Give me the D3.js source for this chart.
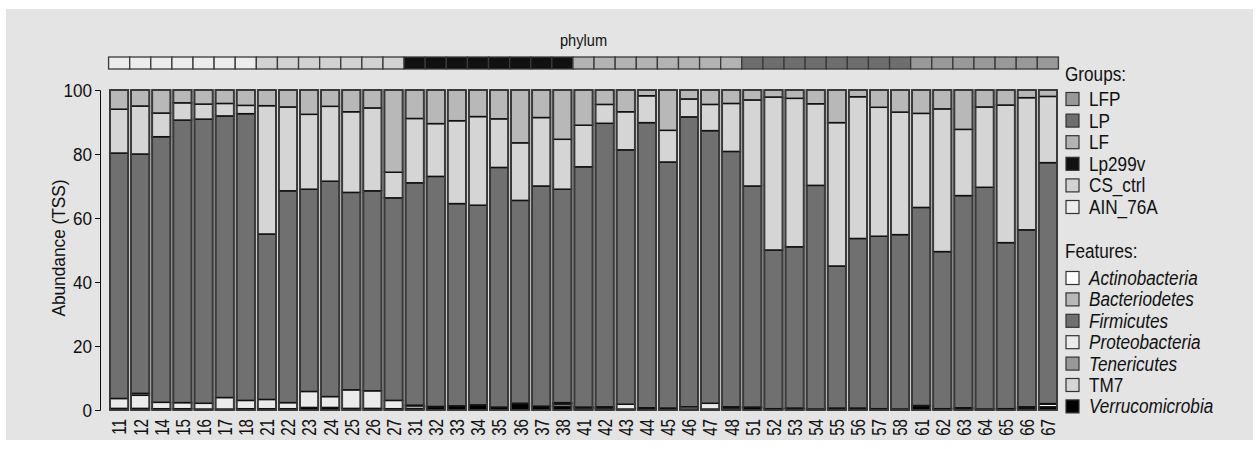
<!DOCTYPE html>
<html>
<head>
<meta charset="utf-8">
<script src="https://cdn.jsdelivr.net/npm/d3@7"></script>
<style>
  html, body { margin: 0; padding: 0; background: #ffffff; }
  svg { display: block; font-family: "Liberation Sans", Arial, sans-serif; }
</style>
</head>
<body>
<svg id="chart" width="1259" height="449"></svg>
<script>
// ---------- DATA ----------
const samples = ["11","12","14","15","16","17","18",
  "21","22","23","24","25","26","27",
  "31","32","33","34","35","36","37","38",
  "41","42","43","44","45","46","47","48",
  "51","52","53","54","55","56","57","58",
  "61","62","63","64","65","66","67"];

const sampleGroups = [
  "AIN_76A","AIN_76A","AIN_76A","AIN_76A","AIN_76A","AIN_76A","AIN_76A",
  "CS_ctrl","CS_ctrl","CS_ctrl","CS_ctrl","CS_ctrl","CS_ctrl","CS_ctrl",
  "Lp299v","Lp299v","Lp299v","Lp299v","Lp299v","Lp299v","Lp299v","Lp299v",
  "LF","LF","LF","LF","LF","LF","LF","LF",
  "LP","LP","LP","LP","LP","LP","LP","LP",
  "LFP","LFP","LFP","LFP","LFP","LFP","LFP"];

const groupNames = ["LFP","LP","LF","Lp299v","CS_ctrl","AIN_76A"];
const groupColors = ["#999999","#6e6e6e","#b3b3b3","#111111","#d2d2d2","#ececec"];

const featureNames = ["Actinobacteria","Bacteriodetes","Firmicutes","Proteobacteria","Tenericutes","TM7","Verrucomicrobia"];
const featureColors = ["#ffffff","#b8b8b8","#707070","#ebebeb","#999999","#d5d5d5","#000000"];
const featureItalic = [true,true,true,true,true,false,true];
// stacking order, bottom to top
const stackOrder = ["Verrucomicrobia","Actinobacteria","Proteobacteria","Tenericutes","Firmicutes","TM7","Bacteriodetes"];

const verrucomicrobia = [0.5,0.5,0.4,0.4,0.3,0.3,0.4, 0.4,0.4,0.8,0.8,0.5,0.5,0.4,
  0.5,1.0,1.2,1.5,0.8,2.0,1.1,1.2, 0.3,0.3,0.3,0.5,0.5,0.3,0.3,0.3,
  0.8,0.3,0.5,0.2,0.5,0.5,0.3,0.2, 1.3,0.3,0.6,0.2,0.3,0.3,1.0];
const actinobacteria = [0,0,0,0,0,0,0, 0,0,0,0,0,0,0,
  0.8,0,0,0,0,0,0,0.7, 0.5,0.5,0,0,0,0,0,0.5,
  0,0,0,0,0,0,0,0, 0,0,0,0,0,0.4,0.8];
const proteobacteria = [3.1,4.1,2.0,1.9,1.8,3.6,2.6, 2.9,1.9,5.0,3.4,5.8,5.5,2.6,
  0.2,0.1,0.1,0.1,0.1,0.1,0.1,0.1, 0.1,0.2,1.5,0.2,0.1,0.7,1.8,0.2,
  0.1,0.1,0.1,0.1,0.1,0.1,0.1,0.1, 0.1,0.1,0.1,0.1,0.1,0.3,0.2];
const tenericutes = [0,0.6,0,0,0,0,0, 0,0,0,0,0,0,0,
  0,0,0,0,0,0,0,0.3, 0,0,0,0,0,0,0,0,
  0,0,0,0,0,0,0,0, 0,0,0,0,0,0,0];
const firmicutes = [76.7,74.8,83.0,88.3,88.8,88.0,89.6, 51.7,66.2,63.2,67.3,61.7,62.5,63.3,
  69.5,71.9,63.2,62.4,74.9,63.4,68.8,66.7, 75.1,88.6,79.5,89.1,76.9,90.6,85.2,79.8,
  69.1,49.6,50.4,69.9,44.4,53.0,53.9,54.5, 61.9,49.1,66.3,69.3,51.9,55.3,75.3];
const tm7 = [13.7,15.0,7.4,5.4,4.7,3.9,2.6, 40.1,26.2,23.4,23.4,25.2,25.9,8.0,
  20.1,16.5,25.9,27.7,15.2,18.0,21.4,15.6, 13.0,5.9,11.9,8.4,9.9,5.6,8.2,15.0,
  26.9,47.8,46.4,25.5,44.8,44.3,40.3,38.3, 29.4,44.6,20.7,25.1,43.0,41.3,20.7];
const bacteriodetes = [6.0,5.0,7.2,4.0,4.4,4.2,4.8, 4.9,5.3,7.6,5.1,6.8,5.6,25.7,
  8.9,10.5,9.6,8.3,9.0,16.5,8.6,15.4, 11.0,4.5,6.8,1.8,12.6,2.8,4.5,4.2,
  3.1,2.2,2.6,4.3,10.2,2.1,5.4,6.9, 7.3,5.9,12.3,5.3,4.7,2.4,2.0];

const yTicks = [0,20,40,60,80,100];

// ---------- TABLE ----------
const seriesByName = {
  "Actinobacteria": actinobacteria, "Bacteriodetes": bacteriodetes, "Firmicutes": firmicutes,
  "Proteobacteria": proteobacteria, "Tenericutes": tenericutes, "TM7": tm7, "Verrucomicrobia": verrucomicrobia
};
const table = samples.map((s, i) => {
  const row = { sample: s, group: sampleGroups[i] };
  featureNames.forEach(f => row[f] = seriesByName[f][i]);
  return row;
});

// ---------- DRAW ----------
const svg = d3.select("#chart");
const FONT = "Liberation Sans, Arial, sans-serif";

svg.append("rect").attr("x", 6).attr("y", 9).attr("width", 1247).attr("height", 431)
  .attr("fill", "#e3e4e3");

const x = d3.scaleBand().domain(samples).range([110, 1057]).paddingInner(0.135).paddingOuter(0);
const y = d3.scaleLinear().domain([0, 100]).range([410, 90]);
const featColor = d3.scaleOrdinal().domain(featureNames).range(featureColors);
const grpColor = d3.scaleOrdinal().domain(groupNames).range(groupColors);

// horizontal text helper, slightly condensed like the reference
function htext(g, tx, ty, str, size, sx, opts = {}) {
  const t = g.append("text")
    .attr("transform", `translate(${tx},${ty}) scale(${sx},1)`)
    .attr("font-size", size).attr("fill", "#111").attr("font-family", FONT)
    .text(str);
  if (opts.anchor) t.attr("text-anchor", opts.anchor);
  if (opts.italic) t.attr("font-style", "italic");
  return t;
}

// stacked bars
const layers = d3.stack().keys(stackOrder)(table);
const gBars = svg.append("g");
layers.forEach(layer => {
  gBars.append("g").selectAll("rect").data(layer).join("rect")
    .attr("x", d => x(d.data.sample))
    .attr("width", x.bandwidth())
    .attr("y", d => y(d[1]))
    .attr("height", d => Math.max(0, y(d[0]) - y(d[1])))
    .attr("fill", featColor(layer.key))
    .attr("stroke", "#111")
    .attr("stroke-width", d => (d[1] - d[0]) > 0 ? 1.5 : 0);
});
gBars.append("g").selectAll("rect").data(table).join("rect")
  .attr("x", d => x(d.sample))
  .attr("width", x.bandwidth())
  .attr("y", y(100))
  .attr("height", y(0) - y(100))
  .attr("fill", "none")
  .attr("stroke", "#3a3a3a")
  .attr("stroke-width", 1.8);

// group strip
const step = x.step();
const stripOff = (step - x.bandwidth()) / 2;
svg.append("g").selectAll("rect").data(table).join("rect")
  .attr("x", d => x(d.sample) - stripOff)
  .attr("width", step)
  .attr("y", 57)
  .attr("height", 12)
  .attr("fill", d => grpColor(d.group))
  .attr("stroke", "#3a3a3a")
  .attr("stroke-width", 1.3);

htext(svg, x(samples[0]) - stripOff + (step * samples.length) / 2, 46, "phylum", 17, 0.86, { anchor: "middle" });

// y axis
const yAxis = d3.axisLeft(y).tickValues(yTicks).tickSize(5).tickPadding(3);
const gy = svg.append("g").attr("transform", "translate(100,0)").call(yAxis);
gy.selectAll("text")
  .attr("font-size", 19).attr("fill", "#111").attr("font-family", FONT)
  .attr("x", 0).attr("dy", "0.36em")
  .attr("transform", "translate(-8,0) scale(0.9,1)");
gy.selectAll("line").attr("stroke", "#111");
gy.select(".domain").attr("stroke", "#111");

svg.append("text").attr("transform", "translate(65,248) rotate(-90) scale(0.96,1)")
  .attr("text-anchor", "middle").attr("font-size", 18).attr("fill", "#111")
  .attr("font-family", FONT).text("Abundance (TSS)");

// x axis labels
const xAxis = d3.axisBottom(x).tickSize(0).tickPadding(0);
const gx = svg.append("g").attr("transform", "translate(0,419)").call(xAxis);
gx.select(".domain").remove();
gx.selectAll("text")
  .attr("font-size", 21).attr("fill", "#111").attr("font-family", FONT)
  .attr("transform", "rotate(-90) scale(0.72,1)")
  .attr("text-anchor", "end")
  .attr("dx", 0).attr("dy", "0.35em").attr("x", 0).attr("y", 0);

// legends
const lg = svg.append("g");
htext(lg, 1065, 81, "Groups:", 19.5, 0.88);
groupNames.forEach((g, i) => {
  const cy = 99 + i * 21.6;
  lg.append("rect").attr("x", 1066).attr("y", cy - 6.5).attr("width", 13).attr("height", 13)
    .attr("fill", grpColor(g)).attr("stroke", "#333").attr("stroke-width", 1.2);
  htext(lg, 1089, cy + 7, g, 19.5, 0.88);
});
htext(lg, 1065, 258, "Features:", 19.5, 0.88);
featureNames.forEach((f, i) => {
  const cy = 278 + i * 21.4;
  lg.append("rect").attr("x", 1066).attr("y", cy - 6.5).attr("width", 13).attr("height", 13)
    .attr("fill", featColor(f)).attr("stroke", "#333").attr("stroke-width", 1.2);
  htext(lg, 1089, cy + 7, f, 19.5, 0.88, { italic: featureItalic[i] });
});
</script>
</body>
</html>
